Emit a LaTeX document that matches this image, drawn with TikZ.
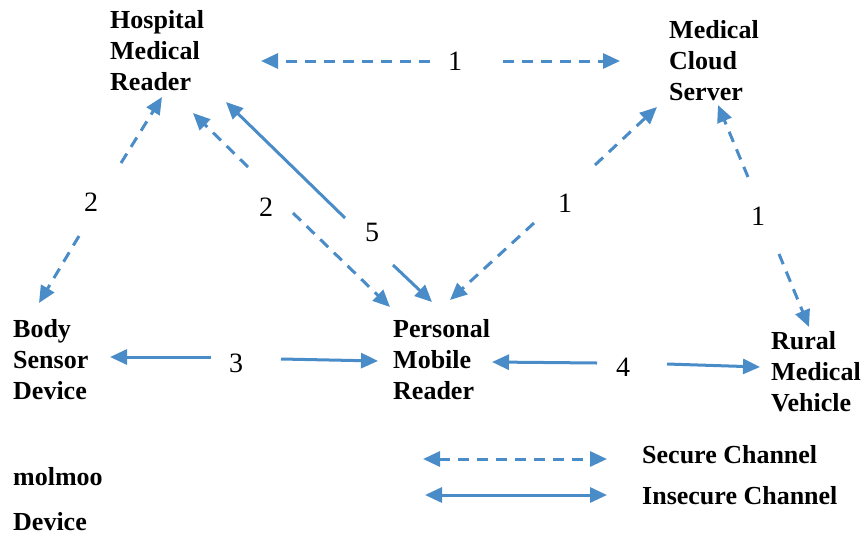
\documentclass[tikz,border=0pt]{standalone}
\usepackage{fontspec}
\setmainfont{Liberation Serif}
\usetikzlibrary{arrows.meta}
\definecolor{chan}{RGB}{74,140,200}
\begin{document}
\begin{tikzpicture}[x=1pt,y=-1pt,
  ent/.style={font=\fontsize{26}{31}\selectfont\bfseries, align=left, inner sep=0pt, anchor=base west},
  num/.style={font=\fontsize{28}{30}\selectfont, inner sep=0pt},
  link/.style={draw=chan, line width=3pt, -{Triangle[length=17pt,width=15pt]}},
  seclink/.style={link, dash pattern=on 11pt off 8pt},
  twoway/.style={{Triangle[length=17pt,width=15pt]}-{Triangle[length=17pt,width=15pt]}}
]
\useasboundingbox (0,0) rectangle (864,536);

% entities (anchored at the baseline of their last line)
\node[ent] (hmr) at (110,90) {Hospital\\Medical\\Reader};
\node[ent] (mcs) at (669,100) {Medical\\Cloud\\Server};
\node[ent] (bsd) at (13,399) {Body\\Sensor\\Device};
\node[ent] (pmr) at (393,399) {Personal\\Mobile\\Reader};
\node[ent] (rmv) at (771,411) {Rural\\Medical\\Vehicle};
\node[ent] (mol) at (13,485) {molmoo};
\node[ent] (dev) at (13,530) {Device};
\node[ent] (lsec) at (642,463) {Secure Channel};
\node[ent] (linsec) at (642,504) {Insecure Channel};

% step numbers
\node[num] (n1a) at (455,61) {1};
\node[num] (n2a) at (91,202) {2};
\node[num] (n2b) at (266,207) {2};
\node[num] (n5) at (372,232) {5};
\node[num] (n1b) at (565,203) {1};
\node[num] (n1c) at (758,216) {1};
\node[num] (n3) at (236,363) {3};
\node[num] (n4) at (623,367) {4};

% segment ends
\coordinate (a1s) at (430,61);  \coordinate (a1t) at (261,61);
\coordinate (a2s) at (503,61);  \coordinate (a2t) at (620,61);
\coordinate (b1s) at (121,163); \coordinate (b1t) at (162,97);
\coordinate (b2s) at (79,236);  \coordinate (b2t) at (39,303);
\coordinate (c1s) at (248,167); \coordinate (c1t) at (193,113);
\coordinate (c2s) at (293,213); \coordinate (c2t) at (390,307);
\coordinate (d1s) at (345,218); \coordinate (d1t) at (226,102);
\coordinate (d2s) at (393,265); \coordinate (d2t) at (432,302);
\coordinate (e1s) at (534,223); \coordinate (e1t) at (450,300);
\coordinate (e2s) at (595,165); \coordinate (e2t) at (657,107);
\coordinate (f1s) at (748,177); \coordinate (f1t) at (718,105);
\coordinate (f2s) at (779,254); \coordinate (f2t) at (809,327);
\coordinate (g1s) at (211,357); \coordinate (g1t) at (110,357);
\coordinate (g2s) at (281,359); \coordinate (g2t) at (378,361);
\coordinate (h1s) at (597,363); \coordinate (h1t) at (492,362);
\coordinate (h2s) at (667,364); \coordinate (h2t) at (760,367);
\coordinate (ls1) at (423,459); \coordinate (ls2) at (607,459);
\coordinate (li1) at (425,495); \coordinate (li2) at (607,495);

% secure channels
\draw[seclink] (a1s) -- (a1t);
\draw[seclink] (a2s) -- (a2t);
\draw[seclink] (b1s) -- (b1t);
\draw[seclink] (b2s) -- (b2t);
\draw[seclink] (c1s) -- (c1t);
\draw[seclink] (c2s) -- (c2t);
\draw[seclink] (e1s) -- (e1t);
\draw[seclink] (e2s) -- (e2t);
\draw[seclink] (f1s) -- (f1t);
\draw[seclink] (f2s) -- (f2t);

% insecure channels
\draw[link] (d1s) -- (d1t);
\draw[link] (d2s) -- (d2t);
\draw[link] (g1s) -- (g1t);
\draw[link] (g2s) -- (g2t);
\draw[link] (h1s) -- (h1t);
\draw[link] (h2s) -- (h2t);

% legend
\draw[seclink, twoway] (ls1) -- (ls2);
\draw[link, twoway] (li1) -- (li2);
\end{tikzpicture}
\end{document}
